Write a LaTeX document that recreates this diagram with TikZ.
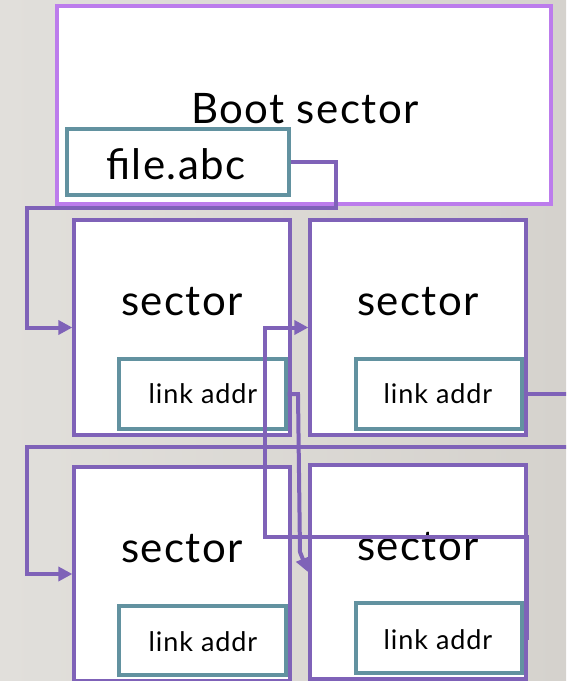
\documentclass[tikz,border=0pt]{standalone}
\usepackage{fontspec}
\setmainfont{Lato}
\newfontfamily\spaced[LetterSpace=3.5]{Lato}
\usetikzlibrary{arrows.meta}
\definecolor{bgL}{HTML}{E1DFDB}
\definecolor{bgR}{HTML}{D5D2CD}
\definecolor{conn}{HTML}{7F62B8}
\definecolor{bootc}{HTML}{BC7CEC}
\definecolor{linkc}{HTML}{6292A0}
\tikzset{
  box/.style={draw=conn, line width=3.3pt, fill=white, inner sep=0pt},
  bootbox/.style={draw=bootc, line width=3.3pt, fill=white, inner sep=0pt},
  linkbox/.style={draw=linkc, line width=3.3pt, fill=white, inner sep=0pt},
  bigtxt/.style={font=\spaced\fontsize{42}{42}\selectfont, anchor=base, inner sep=0pt},
  smalltxt/.style={font=\spaced\fontsize{27}{27}\selectfont, anchor=base, inner sep=0pt},
  wire/.style={draw=conn, line width=4pt},
  arr/.style={-{Triangle[length=14pt,width=14pt]}}
}
\begin{document}
\begin{tikzpicture}[x=1pt,y=-1pt]
\useasboundingbox (0,0) rectangle (566,681);
\shade[left color=bgL, right color=bgR] (0,0) rectangle (566,681);
\clip (0,0) rectangle (566,681);
% boxes
\node[bootbox, minimum width=494pt, minimum height=198pt] (boot) at (304,105) {};
\node[bigtxt] (boottxt) at (305,123) {Boot sector};
\node[linkbox, minimum width=222pt, minimum height=66pt] (file) at (178,162) {};
\node[bigtxt] (filetxt) at (176,179) {file.abc};
\node[box, minimum width=216pt, minimum height=215pt] (s1) at (182,327.5) {};
\node[box, minimum width=216pt, minimum height=215pt] (s2) at (418,327.5) {};
\node[box, minimum width=216pt, minimum height=214pt] (s3) at (182,574) {};
\node[box, minimum width=216pt, minimum height=214pt] (s4) at (418,572) {};
\node[bigtxt] (t1) at (182,315) {sector};
\node[bigtxt] (t2) at (418,315) {sector};
\node[bigtxt] (t3) at (182,562) {sector};
\node[bigtxt] (t4) at (418,560) {sector};
\node[linkbox, minimum width=167pt, minimum height=70pt] (l1) at (202.5,394) {};
\node[linkbox, minimum width=166pt, minimum height=70pt] (l2) at (439,394) {};
\node[linkbox, minimum width=167pt, minimum height=69pt] (l3) at (202.5,640.5) {};
\node[linkbox, minimum width=166pt, minimum height=70pt] (l4) at (439,638) {};
\node[smalltxt] (lt1) at (203,403) {link addr};
\node[smalltxt] (lt2) at (438,403) {link addr};
\node[smalltxt] (lt3) at (203,651) {link addr};
\node[smalltxt] (lt4) at (438,649) {link addr};
% connectors
\coordinate (c1) at (336,162);
\draw[wire, arr] (file.east) -- (c1) |- (27,208) |- (s1.west);
\coordinate (c2) at (575,394);
\draw[wire, arr] (l2.east) -- (c2) |- (27,447) |- (s3.west);
\coordinate (c3) at (298,394);
\coordinate (c4) at (300,552);
\coordinate (c5) at (308,572);
\draw[wire, arr] (l1.east) -- (c3) -- (c4) -- (c5);
\coordinate (c6) at (527,638);
\draw[wire, arr] (l4.east) -- (c6) |- (265,537) |- (s2.west);
\end{tikzpicture}
\end{document}
